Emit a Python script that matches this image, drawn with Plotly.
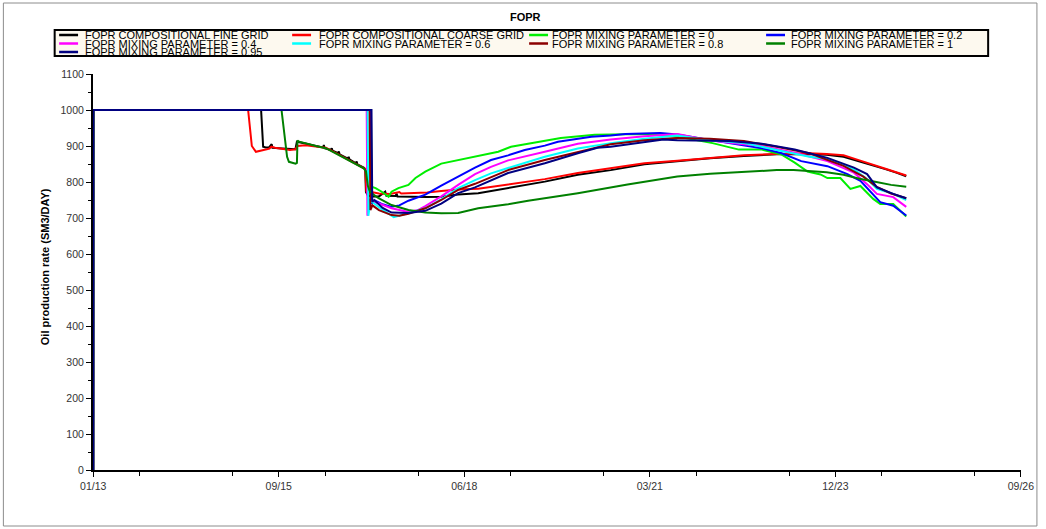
import pandas as pd
import plotly.graph_objects as go

# Simulation start date; all series are sampled in days since start
START = pd.Timestamp("2013-01-01")

# FOPR COMPOSITIONAL FINE GRID
fine_days = [0, 1, 905, 912, 916, 930, 948, 962, 966, 1000, 1050, 1090, 1098, 1110,
             1150, 1200, 1240, 1243, 1247, 1282, 1286, 1290, 1320, 1324, 1328, 1373,
             1377, 1381, 1416, 1420, 1424, 1458, 1466, 1470, 1480, 1500, 1540, 1574,
             1580, 1630, 1635, 1640, 1700, 1800, 1876, 1967, 2075, 2236, 2434, 2612,
             2789, 2971, 3148, 3325, 3507, 3684, 3861, 3953, 4044, 4130, 4221, 4274,
             4328, 4382]
fine_vals = [0, 1000, 1000, 940, 898, 896, 896, 905, 895, 894, 893, 891, 912, 911,
             906, 900, 896, 903, 894, 889, 894, 887, 880, 885, 877, 865, 870, 863,
             852, 857, 849, 840, 836, 772, 763, 760, 760, 773, 762, 761, 768, 760,
             759, 758, 759, 765, 769, 783, 801, 820, 833, 849, 857, 866, 872, 877,
             878, 876, 870, 857, 845, 835, 826, 816]

# FOPR COMPOSITIONAL COARSE GRID
coarse_days = [0, 1, 835, 845, 855, 877, 900, 930, 950, 960, 980, 1000, 1030, 1060,
               1090, 1100, 1145, 1200, 1254, 1324, 1393, 1458, 1467, 1472, 1480, 1500,
               1540, 1600, 1650, 1660, 1700, 1800, 1876, 1967, 2075, 2236, 2434, 2612,
               2789, 2971, 3148, 3325, 3507, 3684, 3861, 3953, 4044, 4130, 4221, 4274,
               4328, 4382]
coarse_vals = [0, 1000, 1000, 950, 900, 884, 886, 890, 893, 898, 895, 893, 890, 889,
               891, 900, 902, 899, 895, 876, 857, 839, 836, 775, 770, 772, 768, 767,
               772, 768, 769, 771, 775, 779, 781, 793, 808, 825, 839, 852, 859, 867,
               874, 878, 880, 878, 874, 860, 846, 836, 827, 818]

# FOPR MIXING PARAMETER = 0
mp0_days = [0, 1, 1497, 1500, 1522, 1555, 1592, 1608, 1645, 1699, 1737, 1790, 1876,
            1967, 2058, 2183, 2252, 2520, 2703, 2971, 3148, 3338, 3480, 3604, 3711,
            3781, 3850, 3920, 3957, 4027, 4081, 4135, 4204, 4242, 4312, 4382]
mp0_vals = [0, 1000, 1000, 787, 783, 773, 759, 773, 783, 792, 811, 829, 851, 861,
            870, 884, 898, 922, 931, 933, 926, 908, 890, 890, 876, 854, 829, 821,
            811, 811, 781, 789, 753, 739, 739, 704]

# FOPR MIXING PARAMETER = 0.2
mp02_days = [0, 1, 1495, 1500, 1520, 1560, 1608, 1650, 1699, 1790, 1876, 1967, 2058,
             2144, 2236, 2326, 2434, 2505, 2612, 2685, 2789, 2868, 3057, 3148, 3427,
             3604, 3711, 3816, 3957, 4065, 4135, 4189, 4242, 4312, 4382]
mp02_vals = [0, 1000, 1000, 740, 748, 738, 731, 735, 748, 765, 790, 815, 840, 861,
             874, 889, 901, 912, 920, 926, 929, 933, 936, 932, 908, 894, 880, 858,
             844, 822, 803, 772, 744, 734, 707]

# FOPR MIXING PARAMETER = 0.4
mp04_days = [0, 1, 1474, 1478, 1490, 1538, 1608, 1699, 1750, 1790, 1876, 1967, 2058,
             2144, 2236, 2434, 2612, 2789, 2971, 3148, 3325, 3507, 3604, 3781, 3957,
             4100, 4171, 4224, 4312, 4382]
mp04_vals = [0, 1000, 1000, 706, 750, 741, 727, 717, 722, 733, 760, 792, 822, 842,
             860, 884, 906, 918, 927, 933, 915, 905, 900, 881, 858, 826, 794, 767,
             758, 731]

# FOPR MIXING PARAMETER = 0.6
mp06_days = [0, 1, 1479, 1483, 1495, 1540, 1620, 1699, 1790, 1876, 1967, 2058, 2144,
             2236, 2434, 2612, 2789, 2971, 3148, 3325, 3507, 3684, 3861, 3957, 4100,
             4171, 4224, 4312, 4382]
mp06_vals = [0, 1000, 1000, 706, 748, 730, 702, 714, 727, 752, 783, 805, 824, 839,
             870, 893, 908, 920, 929, 916, 908, 889, 870, 864, 835, 808, 781, 767,
             750]

# FOPR MIXING PARAMETER = 0.8
mp08_days = [0, 1, 1490, 1494, 1505, 1540, 1608, 1650, 1699, 1790, 1876, 1967, 2058,
             2236, 2434, 2612, 2789, 2971, 3148, 3325, 3507, 3684, 3861, 4044, 4151,
             4221, 4300, 4382]
mp08_vals = [0, 1000, 1000, 722, 735, 722, 708, 706, 712, 727, 750, 778, 795, 833,
             861, 884, 905, 916, 922, 920, 914, 898, 880, 845, 815, 787, 768, 755]

# FOPR MIXING PARAMETER = 1
mp1_days = [0, 1, 1015, 1030, 1045, 1055, 1075, 1091, 1098, 1101, 1110, 1145, 1200,
            1254, 1324, 1393, 1458, 1470, 1480, 1490, 1511, 1538, 1608, 1699, 1790,
            1876, 1967, 2075, 2236, 2344, 2612, 2880, 3148, 3325, 3507, 3684, 3775,
            3861, 3953, 4044, 4130, 4221, 4300, 4382]
mp1_vals = [0, 1000, 1000, 930, 870, 856, 853, 851, 853, 915, 912, 907, 900, 894,
            875, 856, 838, 830, 790, 775, 765, 755, 736, 722, 715, 713, 714, 727,
            738, 748, 769, 793, 815, 823, 829, 833, 833, 831, 827, 820, 809, 800,
            792, 787]

# FOPR MIXING PARAMETER = 0.95
mp095_days = [0, 1, 1500, 1504, 1515, 1560, 1608, 1699, 1790, 1876, 1967, 2058, 2236,
              2434, 2612, 2718, 2789, 2971, 3073, 3148, 3325, 3427, 3604, 3781, 3957,
              4100, 4171, 4224, 4312, 4382]
mp095_vals = [0, 1000, 1000, 745, 750, 728, 715, 714, 720, 740, 769, 785, 825, 852,
              880, 895, 898, 910, 918, 916, 914, 914, 906, 890, 867, 840, 822, 785,
              767, 755]

series_names = [
    "FOPR COMPOSITIONAL FINE GRID", "FOPR COMPOSITIONAL COARSE GRID",
    "FOPR MIXING PARAMETER = 0", "FOPR MIXING PARAMETER = 0.2",
    "FOPR MIXING PARAMETER = 0.4", "FOPR MIXING PARAMETER = 0.6",
    "FOPR MIXING PARAMETER = 0.8", "FOPR MIXING PARAMETER = 1",
    "FOPR MIXING PARAMETER = 0.95",
]
series_data = [
    (fine_days, fine_vals), (coarse_days, coarse_vals), (mp0_days, mp0_vals),
    (mp02_days, mp02_vals), (mp04_days, mp04_vals), (mp06_days, mp06_vals),
    (mp08_days, mp08_vals), (mp1_days, mp1_vals), (mp095_days, mp095_vals),
]
series_colors = ["#000000", "#ff0000", "#00ee00", "#0000ff", "#ff00ff",
                 "#00ffff", "#8b0000", "#008000", "#000080"]

x_ticks_days = 1000      # tick spacing in days
axis_end_days = 5000

FONT = "Liberation Sans, Arial, sans-serif"
W, H = 1046, 529
ML, MR, MT, MB = 93, 21, 74, 59
PW, PH = W - ML - MR, H - MT - MB


def px_x(px):
    return (px - ML) / PW


def px_y(py):
    return (H - MB - py) / PH


fig = go.Figure()
for name, (d, v), c in zip(series_names, series_data, series_colors):
    fig.add_trace(go.Scatter(
        x=START + pd.to_timedelta(d, unit="D"), y=v, name=name, mode="lines",
        line=dict(color=c, width=2), showlegend=False,
    ))

shapes = []
annotations = []

# Outer frame of the figure
shapes.append(dict(type="rect", xref="paper", yref="paper",
                   x0=px_x(3), x1=px_x(1041), y0=px_y(526), y1=px_y(3),
                   line=dict(color="#8c8c8c", width=1), layer="below"))

# Legend box with four columns
shapes.append(dict(type="rect", xref="paper", yref="paper",
                   x0=px_x(54.5), x1=px_x(992), y0=px_y(56), y1=px_y(30),
                   line=dict(color="#000000", width=2), fillcolor="#fdf9ef",
                   layer="below"))
col_line_x = [59, 293, 531, 769]
col_text_x = [83, 318, 552, 792]
row_y = [35, 43.5, 52]
for i, (name, c) in enumerate(zip(series_names, series_colors)):
    r, k = divmod(i, 4)
    y = px_y(row_y[r])
    shapes.append(dict(type="line", xref="paper", yref="paper",
                       x0=px_x(col_line_x[k]), x1=px_x(col_line_x[k] + 19),
                       y0=y, y1=y, line=dict(color=c, width=2.5)))
    annotations.append(dict(xref="paper", yref="paper", x=px_x(col_text_x[k]), y=y,
                            xanchor="left", yanchor="middle", showarrow=False,
                            text=name, font=dict(family=FONT, size=11, color="#000")))

# Chart title
annotations.append(dict(xref="paper", yref="paper", x=px_x(527), y=px_y(17),
                        xanchor="center", yanchor="middle", showarrow=False,
                        text="<b>FOPR</b>", font=dict(family=FONT, size=11, color="#000")))
# Y axis title
annotations.append(dict(xref="paper", yref="paper", x=px_x(45), y=px_y(267),
                        xanchor="center", yanchor="middle", showarrow=False,
                        textangle=-90, text="<b>Oil production rate (SM3/DAY)</b>",
                        font=dict(family=FONT, size=11, color="#000")))

fig.update_layout(
    width=W, height=H, margin=dict(l=ML, r=MR, t=MT, b=MB),
    paper_bgcolor="white", plot_bgcolor="white",
    font=dict(family=FONT, size=10.5, color="#333"),
    shapes=shapes, annotations=annotations, showlegend=False,
)
fig.update_xaxes(
    type="date", range=[START - pd.Timedelta(days=1), START + pd.Timedelta(days=axis_end_days + 0.5)],
    tick0=START.strftime("%Y-%m-%d"), dtick=x_ticks_days * 86400000, tickformat="%m/%y",
    ticks="outside", ticklen=5, tickwidth=1, tickcolor="#000",
    minor=dict(dtick=x_ticks_days * 43200000, ticks="outside", ticklen=4, tickcolor="#000"),
    showgrid=False, zeroline=False, showline=True, linecolor="#000", linewidth=2,
    layer="below traces",
)
fig.update_yaxes(
    range=[0, 1100], dtick=100, ticks="outside", ticklen=5, tickwidth=1, tickcolor="#000",
    minor=dict(dtick=50, ticks="outside", ticklen=3, tickcolor="#000"),
    showgrid=False, zeroline=False, showline=True, linecolor="#000", linewidth=2,
    layer="below traces",
)

fig.write_html("out.html")
